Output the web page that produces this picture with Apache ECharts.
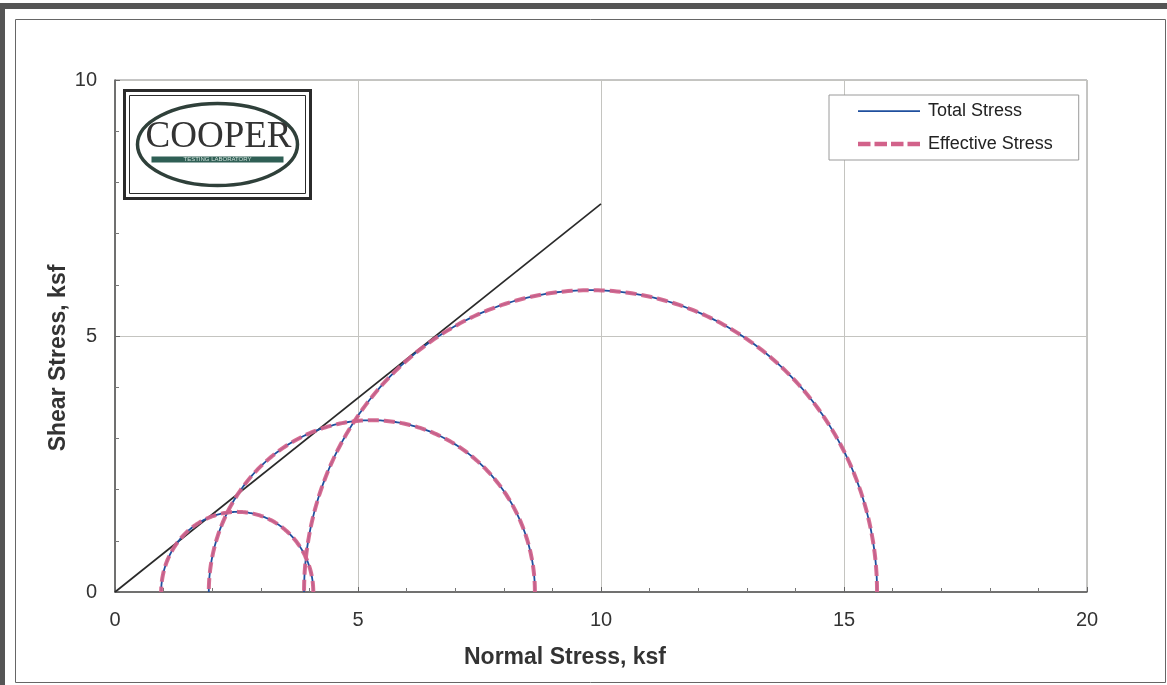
<!DOCTYPE html>
<html>
<head>
<meta charset="utf-8">
<title>Mohr Circles</title>
<script src="https://cdn.jsdelivr.net/npm/echarts@6/dist/echarts.min.js"></script>
<style>
  html, body { margin: 0; padding: 0; background: #fff; }
  #chart { width: 1167px; height: 685px; }
</style>
</head>
<body>
<div id="chart"></div>
<script>
// Mohr circles at failure: minor / major principal stresses (ksf)
const sigma3 = [0.95, 1.93, 3.89];
const sigma1 = [4.08, 8.64, 15.68];
// Failure envelope endpoints [normal, shear] (ksf)
const envelope = [[0, 0], [10, 7.58]];
const seriesNames = ['Total Stress', 'Effective Stress'];
const xTicks = [0, 5, 10, 15, 20];
const yTicks = [0, 5, 10];

const circles = sigma3.map((s3, i) => [s3, sigma1[i]]);

const FONT = '"Liberation Sans", Arial, sans-serif';
const BLUE = '#1f4f9e';
const PINK = '#d2628a';

// Legend keys: a thin solid line and a row of thick dashes
const ICON_SOLID = 'path://M0,0 M62,4.5 M0,1.4h62v1.8h-62z';
const ICON_DASHED = 'path://M0,0h12.5v4.5h-12.5z M16.5,0h12.5v4.5h-12.5z M33,0h12.5v4.5h-12.5z M49.5,0h12.5v4.5h-12.5z';

// Half circle through the axis scales (x and y pixel scales differ)
function halfCircle(style) {
  return function (params, api) {
    const a = api.value(0), b = api.value(1);
    const c = (a + b) / 2, r = (b - a) / 2;
    const pts = [];
    const n = 240;
    for (let k = 0; k <= n; k++) {
      const t = Math.PI * k / n;
      pts.push(api.coord([c + r * Math.cos(t), r * Math.sin(t)]));
    }
    return {
      type: 'polyline',
      shape: { points: pts },
      style: Object.assign({ fill: null }, style)
    };
  };
}

const chart = echarts.init(document.getElementById('chart'), null, { renderer: 'canvas' });

chart.setOption({
  animation: false,
  backgroundColor: '#fff',
  textStyle: { fontFamily: FONT },
  grid: {
    left: 115, right: 80, top: 80, bottom: 93,
    show: true, borderColor: '#8a8a8a', borderWidth: 1, backgroundColor: '#fff'
  },
  legend: {
    data: [
      { name: seriesNames[0], icon: ICON_SOLID, itemStyle: { color: BLUE } },
      { name: seriesNames[1], icon: ICON_DASHED, itemStyle: { color: PINK } }
    ],
    orient: 'vertical',
    left: 829, top: 95,
    padding: [6, 26, 6, 29],
    itemWidth: 62, itemHeight: 4.5, itemGap: 13,
    backgroundColor: '#fff',
    borderColor: '#9a9a9a', borderWidth: 1,
    selectedMode: false,
    textStyle: { fontSize: 18, lineHeight: 20, color: '#222', fontFamily: FONT, padding: [0, 0, 0, 3] }
  },
  xAxis: {
    type: 'value', min: 0, max: 20, interval: 5,
    name: 'Normal Stress, ksf', nameLocation: 'middle', nameGap: 54,
    nameTextStyle: { fontSize: 23, fontWeight: 'bold', color: '#333', fontFamily: FONT,
                     padding: [0, 72, 0, 0] },
    axisLine: { lineStyle: { color: '#555', width: 1.5 } },
    axisTick: { show: true, inside: true, length: 5, lineStyle: { color: '#666' } },
    minorTick: { show: true, splitNumber: 5, length: 4, lineStyle: { color: '#777' } },
    axisLabel: {
      fontSize: 20, color: '#333', margin: 18, fontFamily: FONT,
      customValues: xTicks
    },
    splitLine: { show: true, lineStyle: { color: '#c4c4c0', width: 1 } }
  },
  yAxis: {
    type: 'value', min: 0, max: 10, interval: 5,
    name: 'Shear Stress, ksf', nameLocation: 'middle', nameGap: 45,
    nameMoveOverlap: false,
    nameTextStyle: { fontSize: 23, fontWeight: 'bold', color: '#333', fontFamily: FONT,
                     padding: [0, 44, 0, 0] },
    axisLine: { show: true, lineStyle: { color: '#555', width: 1.5 } },
    axisTick: { show: true, inside: true, length: 5, lineStyle: { color: '#666' } },
    minorTick: { show: true, splitNumber: 5, length: 4, lineStyle: { color: '#777' } },
    axisLabel: {
      fontSize: 20, color: '#333', margin: 18, fontFamily: FONT,
      customValues: yTicks
    },
    splitLine: { show: true, lineStyle: { color: '#c4c4c0', width: 1 } }
  },
  series: [
    // failure envelope
    { type: 'line', data: envelope, symbol: 'none', silent: true, z: 4,
      lineStyle: { color: '#2a2a2a', width: 1.7 } },
    // total stress circles
    { name: seriesNames[0], type: 'custom', data: circles, z: 5, silent: true,
      encode: { x: [0, 1] }, clip: true,
      renderItem: halfCircle({ stroke: BLUE, lineWidth: 1.8 }) },
    // effective stress circles (coincide with total)
    { name: seriesNames[1], type: 'custom', data: circles, z: 6, silent: true,
      encode: { x: [0, 1] }, clip: true,
      renderItem: halfCircle({ stroke: PINK, lineWidth: 4, lineDash: [11, 5], opacity: 0.92 }) }
  ],
  graphic: [
    // page frame
    { type: 'rect', silent: true, z: 0,
      shape: { x: 15.5, y: 19.5, width: 1150, height: 663 },
      style: { fill: null, stroke: '#666', lineWidth: 1 } },
    { type: 'rect', silent: true, z: 0,
      shape: { x: 0, y: 3, width: 1167, height: 6 },
      style: { fill: '#555' } },
    { type: 'rect', silent: true, z: 0,
      shape: { x: 0, y: 3, width: 5, height: 682 },
      style: { fill: '#555' } },
    // logo block
    { type: 'group', left: 123, top: 89, z: 100, silent: true,
      children: [
        { type: 'rect', shape: { x: 0, y: 0, width: 186, height: 108 },
          style: { fill: '#fff', stroke: '#2b2b2b', lineWidth: 3 } },
        { type: 'rect', shape: { x: 5, y: 5, width: 176, height: 98 },
          style: { fill: null, stroke: '#2b2b2b', lineWidth: 1 } },
        { type: 'ellipse', shape: { cx: 93, cy: 54, rx: 80, ry: 41 },
          style: { fill: '#fff', stroke: '#2f403a', lineWidth: 3.5 } },
        { type: 'text', x: 94, y: 47,
          style: { text: 'COOPER', fill: '#333', font: '37px "Liberation Serif", "DejaVu Serif", serif',
                   align: 'center', verticalAlign: 'middle' } },
        { type: 'rect', shape: { x: 27, y: 66, width: 132, height: 6 },
          style: { fill: '#2f5f55' } },
        { type: 'text', x: 93, y: 69,
          style: { text: 'TESTING LABORATORY', fill: '#cfe0da', font: '6px "Liberation Sans", sans-serif',
                   align: 'center', verticalAlign: 'middle' } }
      ] }
  ]
});
</script>
</body>
</html>
